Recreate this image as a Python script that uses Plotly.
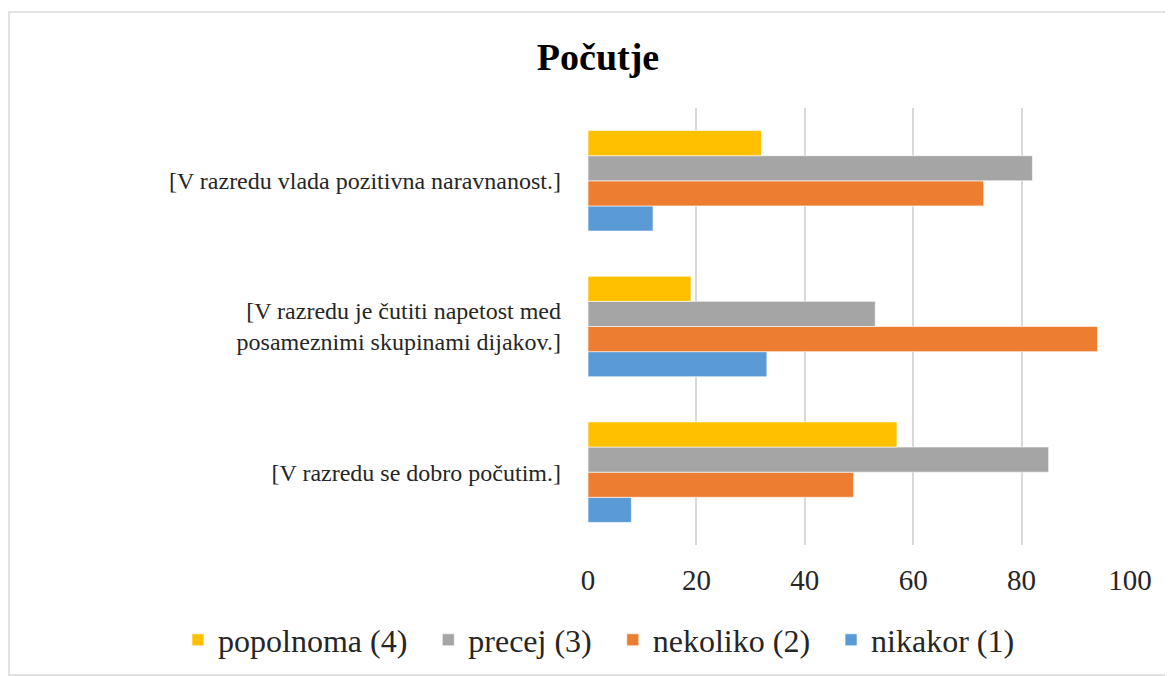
import plotly.graph_objects as go

categories = [
    "[V razredu se dobro počutim.]",
    "[V razredu je čutiti napetost med<br>posameznimi skupinami dijakov.]",
    "[V razredu vlada pozitivna naravnanost.]",
]
series_names = ["nikakor (1)", "nekoliko (2)", "precej (3)", "popolnoma (4)"]
nikakor = [8, 33, 12]
nekoliko = [49, 94, 73]
precej = [85, 53, 82]
popolnoma = [57, 19, 32]
colors = ["#5B9BD5", "#ED7D31", "#A5A5A5", "#FFC000"]
x_ticks = [0, 20, 40, 60, 80, 100]

values = [nikakor, nekoliko, precej, popolnoma]

# page body has an 8px margin; figure sized to fill the rest of the window
OFF = 8
W, H = 1173 - OFF, 676 - OFF
L, T = 588 - OFF, 108 - OFF
pw, ph = 542, 437
R, B = W - L - pw, H - T - ph

PAD = "\u00a0\u00a0"  # extra spacing between legend entries

fig = go.Figure()
for name, vals, col in zip(series_names, values, colors):
    fig.add_trace(go.Bar(
        y=categories, x=vals, name=name + PAD, orientation="h",
        marker=dict(color=col, line=dict(color="rgba(255,255,255,0.6)", width=1)),
    ))

font = "Liberation Serif, Times New Roman, serif"


def px_x(p):  # page pixel -> paper x
    return (p - OFF - L) / pw


def px_y(p):  # page pixel -> paper y
    return (T + ph - (p - OFF)) / ph


fig.add_shape(type="rect", xref="paper", yref="paper",
              x0=px_x(OFF + 1), x1=px_x(1172),
              y0=px_y(675), y1=px_y(12),
              line=dict(color="#d9d9d9", width=1.5), fillcolor="rgba(0,0,0,0)",
              layer="below")

fig.update_layout(
    width=W, height=H,
    margin=dict(l=L, r=R, t=T, b=B, autoexpand=False),
    paper_bgcolor="white", plot_bgcolor="white",
    barmode="group", bargap=0.31, bargroupgap=0,
    title=dict(text="<b>Počutje</b>", x=(598 - OFF) / W, xref="container", xanchor="center",
               y=1 - (57 - OFF) / H, yref="container", yanchor="middle",
               font=dict(family=font, size=38, color="black")),
    font=dict(family=font, size=24, color="#262626"),
    xaxis=dict(range=[0, 100], tickvals=x_ticks, showgrid=True, gridcolor="#d9d9d9",
               gridwidth=1.5, zeroline=False, showline=False, ticks="",
               ticklabelstandoff=15, tickfont=dict(size=29, color="#262626")),
    yaxis=dict(showgrid=False, zeroline=False, showline=False, ticks="",
               ticklabelstandoff=26, tickfont=dict(size=24, color="#262626")),
    legend=dict(orientation="h", traceorder="reversed",
                xref="paper", yref="paper",
                x=px_x(178), xanchor="left",
                y=px_y(640), yanchor="middle",
                font=dict(size=32, color="#262626"), itemwidth=30),
    showlegend=True,
)

fig.write_html("out.html")
